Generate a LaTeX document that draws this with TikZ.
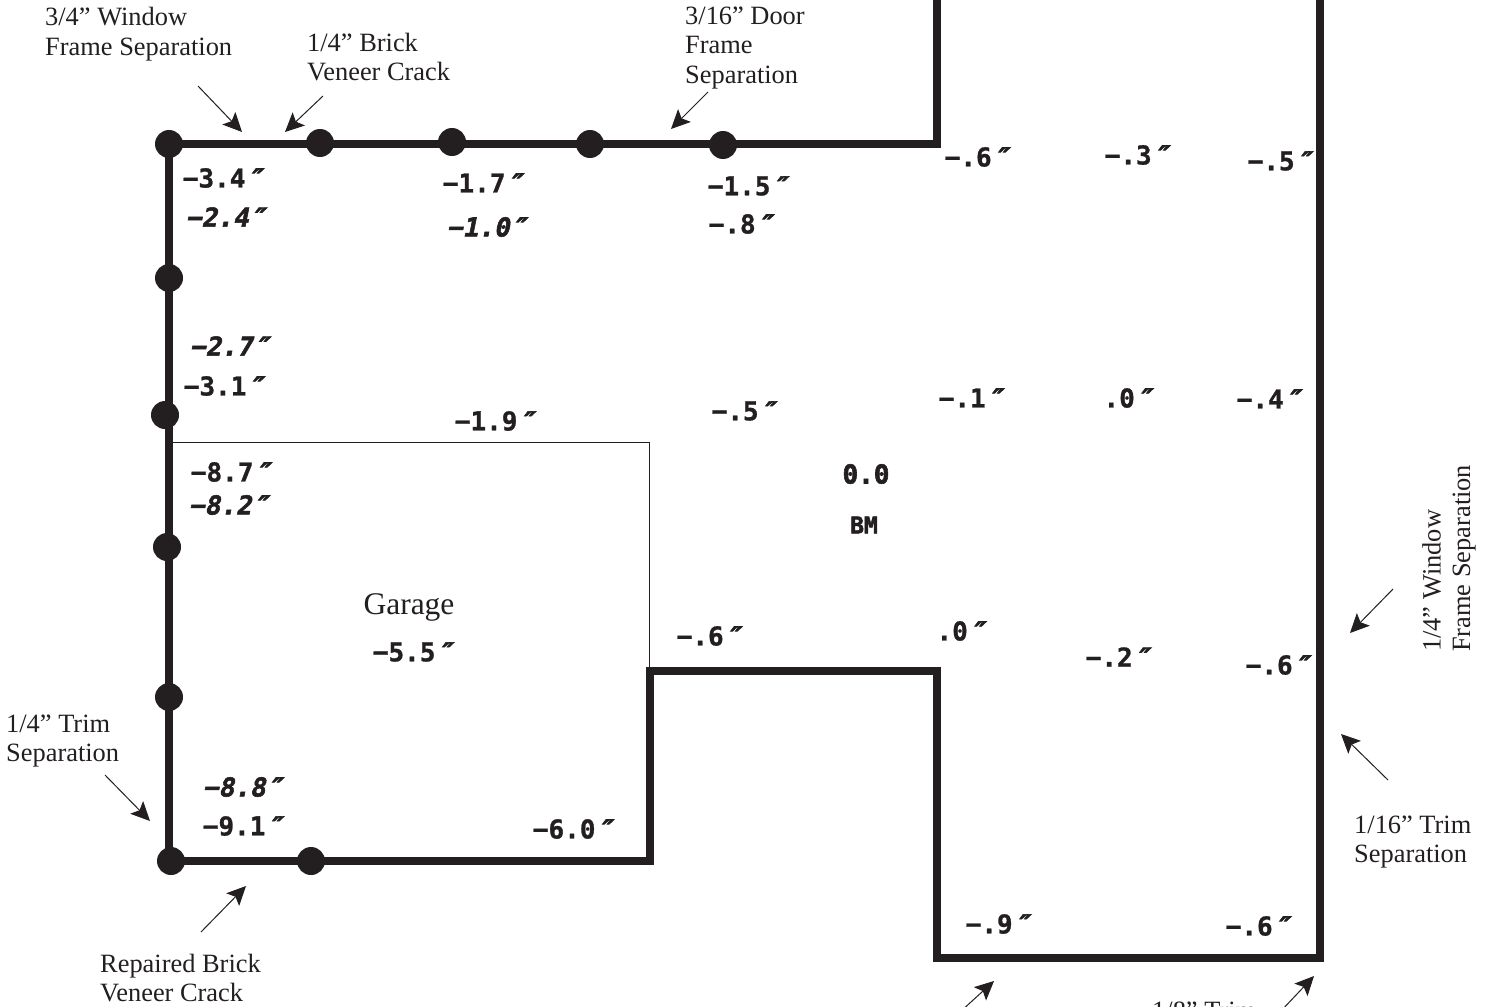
\documentclass[tikz,border=0pt]{standalone}
\usepackage{fontspec}
\setmainfont{Liberation Serif}
\newfontfamily\levelfont[FakeBold=1.0]{DejaVu Sans Mono Bold}
\newfontfamily\recheckfont[FakeBold=2.0,FakeSlant=0.2]{DejaVu Sans Mono Bold}
\newfontfamily\heavyfont[FakeBold=2.4]{DejaVu Sans Mono Bold}
\newfontfamily\inchfont[FakeBold=2.5,FakeSlant=0.3]{DejaVu Sans Mono Bold}
\usetikzlibrary{arrows.meta}
\definecolor{ink}{HTML}{231F20}
\newcommand{\inch}{{\inchfont ″}}
\tikzset{
    wall/.style={draw=ink, line width=8pt, miter limit=10},
    thinwall/.style={draw=ink, line width=1pt},
    pin/.style={circle, fill=ink, minimum size=28pt, inner sep=0pt},
    leader/.style={draw=ink, line width=1pt, -{Stealth[length=19pt,width=18pt,inset=4pt]}},
    note/.style={text=ink, inner sep=0pt, align=left, font=\fontsize{26.4}{29.6}\selectfont},
    level/.style={text=ink, inner sep=0pt, font=\levelfont\fontsize{26}{28}\selectfont},
    recheck/.style={text=ink, inner sep=0pt, font=\recheckfont\fontsize{26}{28}\selectfont},
    datum/.style={text=ink, inner sep=0pt, font=\heavyfont\fontsize{26}{28}\selectfont}
}
\begin{document}
\begin{tikzpicture}[x=1pt, y=-1pt]
    \useasboundingbox (0, 0) rectangle (1495, 1006);
    \clip (0, 0) rectangle (1495, 1006);
    \fill[white] (0, 0) rectangle (1495, 1006);
    % walls
    \draw[thinwall] (170, 442) -- (649, 442) -- (649, 670);
    \draw[wall] (937, -10) -- (937, 144) -- (169, 144) -- (169, 861) -- (650, 861) -- (650, 671) -- (937, 671) -- (937, 958) -- (1320, 958) -- (1320, -10);
    % pins
    \node[pin] (pinA) at (169, 144) {};
    \node[pin] (pinB) at (320, 143) {};
    \node[pin] (pinC) at (452, 142) {};
    \node[pin] (pinD) at (590, 144) {};
    \node[pin] (pinE) at (723, 145) {};
    \node[pin] (pinF) at (169, 278) {};
    \node[pin] (pinG) at (165, 415) {};
    \node[pin] (pinH) at (167, 547) {};
    \node[pin] (pinI) at (169, 697) {};
    \node[pin] (pinJ) at (171, 861) {};
    \node[pin] (pinK) at (311, 861) {};
    % notes
    \node[note, anchor=west] (noteWindow) at (45, 34) {3/4” Window\\Frame Separation};
    \node[note, anchor=west] (noteBrick) at (307, 57) {1/4” Brick\\Veneer Crack};
    \node[note, anchor=west] (noteDoor) at (685, 48) {3/16” Door\\Frame\\Separation};
    \node[note, anchor=west] (noteTrim) at (6, 741) {1/4” Trim\\Separation};
    \node[note, anchor=west] (noteRepair) at (100, 978) {Repaired Brick\\Veneer Crack};
    \node[note, anchor=west] (noteSmall) at (1354, 842) {1/16” Trim\\Separation};
    \node[note, anchor=west] (noteLow) at (1152, 1011) {1/8” Trim};
    \node[note, anchor=west, rotate=90] (noteSide) at (1449, 652) {1/4” Window\\Frame Separation};
    \node[note, font=\fontsize{31.5}{34}\selectfont] (garage) at (409, 607) {Garage};
    % leaders
    \coordinate (leadA) at (198, 86);
    \coordinate (tipA) at (242, 132);
    \coordinate (leadB) at (323, 96);
    \coordinate (tipB) at (285, 132);
    \coordinate (leadC) at (708, 92);
    \coordinate (tipC) at (671, 129);
    \coordinate (leadD) at (1393, 589);
    \coordinate (tipD) at (1350, 633);
    \coordinate (leadE) at (1388, 780);
    \coordinate (tipE) at (1341, 734);
    \coordinate (leadF) at (105, 775);
    \coordinate (tipF) at (150, 821);
    \coordinate (leadG) at (201, 932);
    \coordinate (tipG) at (246, 886);
    \coordinate (leadH) at (960, 1012);
    \coordinate (tipH) at (994, 981);
    \coordinate (leadI) at (1280, 1012);
    \coordinate (tipI) at (1314, 976);
    \draw[leader] (leadA) -- (tipA);
    \draw[leader] (leadB) -- (tipB);
    \draw[leader] (leadC) -- (tipC);
    \draw[leader] (leadD) -- (tipD);
    \draw[leader] (leadE) -- (tipE);
    \draw[leader] (leadF) -- (tipF);
    \draw[leader] (leadG) -- (tipG);
    \draw[leader] (leadH) -- (tipH);
    \draw[leader] (leadI) -- (tipI);
    % levels
    \node[level] (lvA) at (222, 178) {−3.4\inch};
    \node[recheck] (lvB) at (225, 217) {−2.4\inch};
    \node[level] (lvC) at (482, 183) {−1.7\inch};
    \node[recheck] (lvD) at (486, 227) {−1.0\inch};
    \node[level] (lvE) at (747, 186) {−1.5\inch};
    \node[level] (lvF) at (740, 224) {−.8\inch};
    \node[level] (lvG) at (976, 157) {−.6\inch};
    \node[level] (lvH) at (1136, 155) {−.3\inch};
    \node[level] (lvI) at (1279, 161) {−.5\inch};
    \node[recheck] (lvJ) at (229, 346) {−2.7\inch};
    \node[level] (lvK) at (223, 386) {−3.1\inch};
    \node[level] (lvL) at (494, 421) {−1.9\inch};
    \node[level] (lvM) at (743, 411) {−.5\inch};
    \node[level] (lvN) at (970, 398) {−.1\inch};
    \node[level] (lvO) at (1127, 398) {.0\inch};
    \node[level] (lvP) at (1268, 399) {−.4\inch};
    \node[level] (lvQ) at (230, 472) {−8.7\inch};
    \node[recheck] (lvR) at (228, 505) {−8.2\inch};
    \node[level] (lvS) at (412, 652) {−5.5\inch};
    \node[level] (lvT) at (708, 636) {−.6\inch};
    \node[level] (lvU) at (960, 631) {.0\inch};
    \node[level] (lvV) at (1117, 657) {−.2\inch};
    \node[level] (lvW) at (1277, 665) {−.6\inch};
    \node[recheck] (lvX) at (242, 787) {−8.8\inch};
    \node[level] (lvY) at (242, 826) {−9.1\inch};
    \node[level] (lvZ) at (572, 829) {−6.0\inch};
    \node[level] (lvAA) at (997, 924) {−.9\inch};
    \node[level] (lvAB) at (1257, 926) {−.6\inch};
    % bench mark
    \node[datum] (zero) at (866, 474) {0.0};
    \node[datum, font=\heavyfont\fontsize{23}{26}\selectfont] (bench) at (864, 525) {BM};
\end{tikzpicture}
\end{document}
